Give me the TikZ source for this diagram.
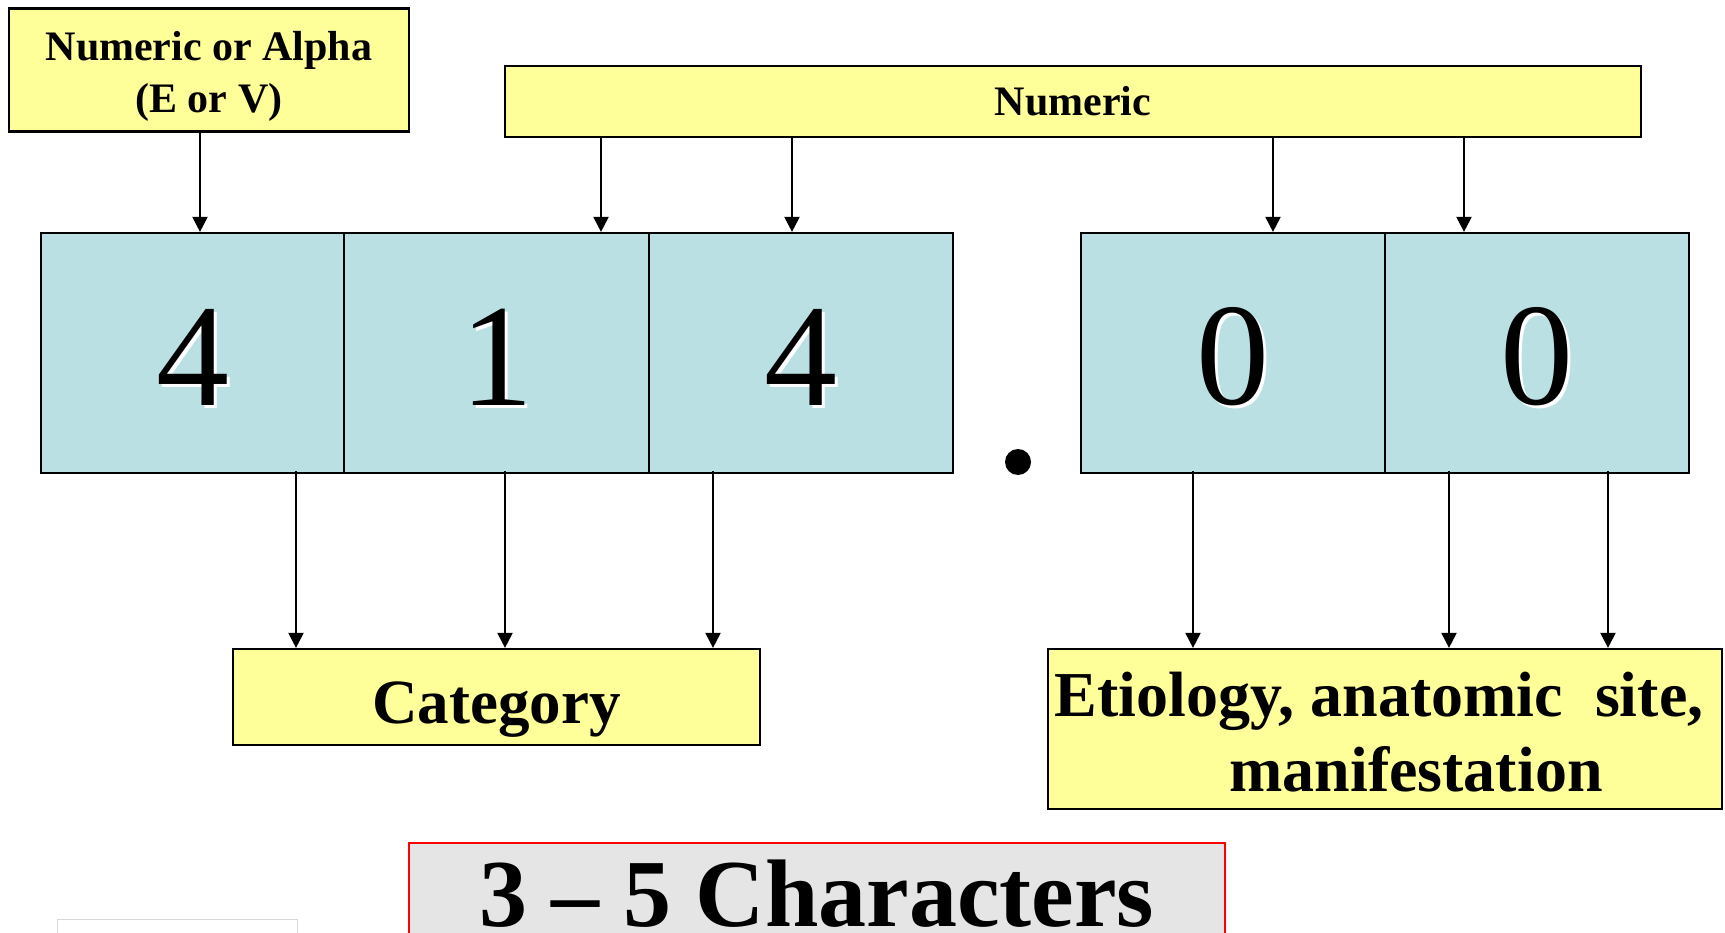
\documentclass[tikz,border=0pt]{standalone}
\usepackage{fontspec}
\setmainfont{Liberation Serif}
\usetikzlibrary{arrows.meta}
\definecolor{ylw}{HTML}{FFFF99}
\definecolor{cell}{HTML}{BBE0E3}
\definecolor{gbox}{HTML}{E5E5E5}
\tikzset{
  ybox/.style={draw=black, line width=2.2pt, fill=ylw, inner sep=0pt, align=center, font=\bfseries},
  cellbox/.style={draw=black, line width=2.2pt, fill=cell, inner sep=0pt, minimum height=240pt},
  digit/.style={inner sep=0pt, font=\fontsize{146}{146}\selectfont},
  arr/.style={line width=2pt, -{Triangle[length=15pt,width=15pt]}},
}
\begin{document}
\begin{tikzpicture}[x=1pt,y=-1pt]
\useasboundingbox (0,0) rectangle (1725,933);
% top labels
\node[ybox, minimum width=400pt, minimum height=123pt] (alpha) at (209,70) {};
\node[inner sep=0pt, align=center, font=\bfseries\fontsize{42}{52}\selectfont] (alphatext) at (209,76) {Numeric or Alpha\\(E or V)};
\node[ybox, minimum width=1136pt, minimum height=71pt, font=\bfseries\fontsize{42}{45}\selectfont] (numeric) at (1073,101.5) {Numeric};
% cells
\node[cellbox, minimum width=303pt] (c1) at (192.5,353) {};
\node[cellbox, minimum width=305pt] (c2) at (496.5,353) {};
\node[cellbox, minimum width=304pt] (c3) at (801,353) {};
\node[cellbox, minimum width=304pt] (c4) at (1233,353) {};
\node[cellbox, minimum width=304pt] (c5) at (1537,353) {};
% digits with white shadow
\foreach \n/\d in {c1/4,c2/1,c3/4,c4/0,c5/0}{
  \node[digit, text=white] at ([shift={(3,7)}]\n.center) {\d};
  \node[digit] (d\n) at ([shift={(0,4)}]\n.center) {\d};
}
% decimal point
\node[circle, fill=black, inner sep=0pt, minimum size=26pt] (dot) at (1018,462) {};
% bottom labels
\node[ybox, minimum width=527pt, minimum height=96pt, text height=52pt, text depth=0pt, font=\bfseries\fontsize{63}{70}\selectfont] (cat) at (496.5,697) {Category};
\node[ybox, minimum width=674pt, minimum height=160pt] (etio) at (1385,729) {};
\node[inner sep=0pt, align=center, font=\bfseries\fontsize{64}{75}\selectfont] (etiotext) at (1379,732) {Etiology, anatomic\ \ site,\\\hspace*{74pt}manifestation};
% characters box
\node[draw=red, line width=1.5pt, fill=gbox, minimum width=816pt, minimum height=110pt, anchor=north, inner sep=0pt] (chars) at (817,842) {};
\node[inner sep=0pt, anchor=base, font=\bfseries\fontsize{96}{100}\selectfont] (charstext) at (817,926) {3 – 5 Characters};
% small faint box
\node[draw=black!15, line width=1pt, fill=white, minimum width=240pt, minimum height=30pt, anchor=north west, inner sep=0pt] (faint) at (57,919) {};
% arrows top
\draw[arr] (alpha.south -| 200,0) -- (c1.north -| 200,0);
\draw[arr] (numeric.south -| 601,0) -- (c2.north -| 601,0);
\draw[arr] (numeric.south -| 792,0) -- (c3.north -| 792,0);
\draw[arr] (numeric.south -| 1273,0) -- (c4.north -| 1273,0);
\draw[arr] (numeric.south -| 1464,0) -- (c5.north -| 1464,0);
% arrows bottom
\draw[arr] ([yshift=3pt]c1.south -| 296,0) -- (cat.north -| 296,0);
\draw[arr] ([yshift=3pt]c2.south -| 505,0) -- (cat.north -| 505,0);
\draw[arr] ([yshift=3pt]c3.south -| 713,0) -- (cat.north -| 713,0);
\draw[arr] ([yshift=3pt]c4.south -| 1193,0) -- (etio.north -| 1193,0);
\draw[arr] ([yshift=3pt]c5.south -| 1449,0) -- (etio.north -| 1449,0);
\draw[arr] ([yshift=3pt]c5.south -| 1608,0) -- (etio.north -| 1608,0);
\end{tikzpicture}
\end{document}
